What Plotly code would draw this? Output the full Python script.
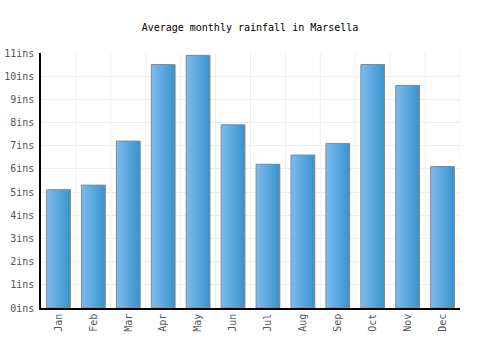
import plotly.graph_objects as go

months = ["Jan", "Feb", "Mar", "Apr", "May", "Jun", "Jul", "Aug", "Sep", "Oct", "Nov", "Dec"]
rainfall = [5.1, 5.3, 7.2, 10.5, 10.9, 7.9, 6.2, 6.6, 7.1, 10.5, 9.6, 6.1]
y_ticks = list(range(0, 12))
y_labels = [f"{v}ins" for v in y_ticks]

x_idx = list(range(len(months)))
bar_w = 0.68
n_slices = 12
c0 = (124, 185, 234)
c1 = (58, 150, 208)

fig = go.Figure()
sw = bar_w / n_slices
for i in range(n_slices):
    t = i / (n_slices - 1)
    col = tuple(round(c0[k] + (c1[k] - c0[k]) * t) for k in range(3))
    w = sw * 2 if i < n_slices - 1 else sw
    fig.add_trace(go.Bar(
        x=x_idx, y=rainfall, width=w, offset=-bar_w / 2 + i * sw,
        marker=dict(color=f"rgb{col}", line=dict(width=0)),
        hoverinfo="skip", showlegend=False,
    ))
fig.add_trace(go.Bar(
    x=x_idx, y=rainfall, width=bar_w, offset=-bar_w / 2,
    marker=dict(color="rgba(0,0,0,0)", line=dict(color="#888888", width=1)),
    showlegend=False, name="Rainfall",
))

font_fam = "DejaVu Sans Mono, monospace"
fig.update_layout(
    width=500, height=350,
    margin=dict(l=41, r=40, t=53, b=42),
    paper_bgcolor="white", plot_bgcolor="white",
    barmode="overlay",
    title=dict(text="Average monthly rainfall in Marsella", x=0.5, xanchor="center",
               y=0.922, yanchor="middle", font=dict(family=font_fam, size=10, color="#000")),
    font=dict(family=font_fam, size=10, color="#555"),
    xaxis=dict(
        tickmode="array", tickvals=x_idx, ticktext=months, tickangle=-90,
        range=[-0.5, 11.5], showgrid=False, showline=True, linecolor="#000", linewidth=1.5,
        ticks="", zeroline=False, automargin=False,
    ),
    yaxis=dict(
        tickmode="array", tickvals=y_ticks, ticktext=y_labels, range=[0, 11],
        showgrid=True, gridcolor="#eeeeee", gridwidth=1,
        showline=True, linecolor="#000", linewidth=1.5, ticks="", zeroline=False,
        automargin=False, ticklabelstandoff=3,
    ),
)
# vertical gridlines at category boundaries
for b in range(1, 13):
    fig.add_vline(x=b - 0.5, line=dict(color="#eeeeee", width=1), layer="below")

fig.write_html("out.html")
